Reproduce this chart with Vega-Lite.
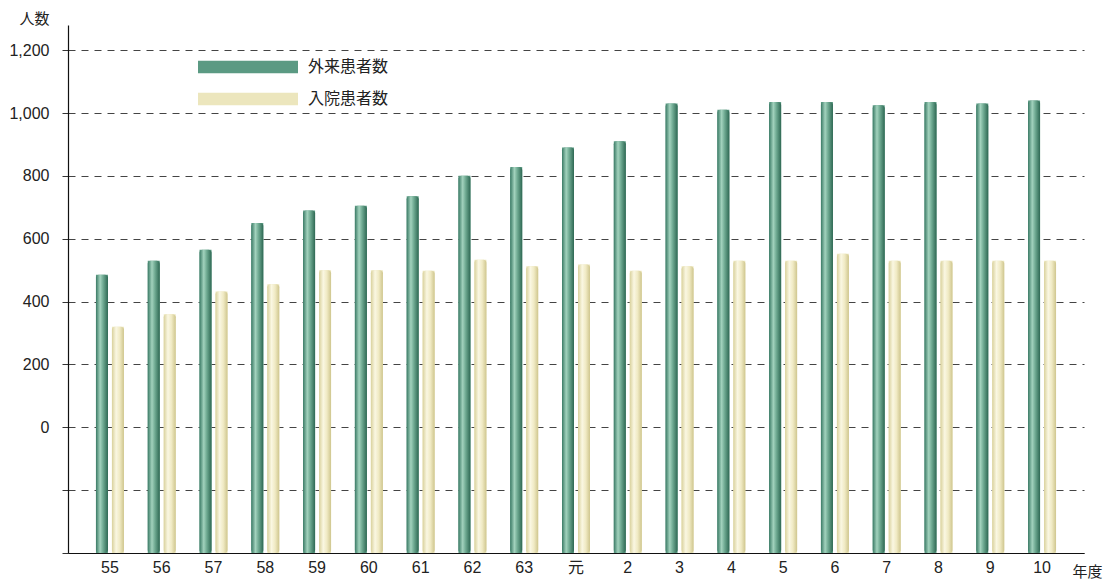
{
  "$schema": "https://vega.github.io/schema/vega-lite/v6.json",
  "width": 1016,
  "height": 528,
  "autosize": {"type": "none"},
  "padding": {"left": 68, "top": 25, "right": 20, "bottom": 26},
  "background": "white",
  "config": {
    "view": {"stroke": null},
    "font": "Liberation Sans, Noto Sans CJK JP",
    "axis": {"labelFont": "Liberation Sans, Noto Sans CJK JP", "titleFont": "Noto Sans CJK JP"}
  },
  "data": {
    "values": [
      {"year": "55", "series": "外来患者数", "value": 485},
      {"year": "56", "series": "外来患者数", "value": 530},
      {"year": "57", "series": "外来患者数", "value": 565},
      {"year": "58", "series": "外来患者数", "value": 650},
      {"year": "59", "series": "外来患者数", "value": 690},
      {"year": "60", "series": "外来患者数", "value": 705},
      {"year": "61", "series": "外来患者数", "value": 735},
      {"year": "62", "series": "外来患者数", "value": 800},
      {"year": "63", "series": "外来患者数", "value": 828},
      {"year": "元", "series": "外来患者数", "value": 890},
      {"year": "2", "series": "外来患者数", "value": 910},
      {"year": "3", "series": "外来患者数", "value": 1030},
      {"year": "4", "series": "外来患者数", "value": 1010},
      {"year": "5", "series": "外来患者数", "value": 1035},
      {"year": "6", "series": "外来患者数", "value": 1035},
      {"year": "7", "series": "外来患者数", "value": 1025},
      {"year": "8", "series": "外来患者数", "value": 1035},
      {"year": "9", "series": "外来患者数", "value": 1030},
      {"year": "10", "series": "外来患者数", "value": 1040},
      {"year": "55", "series": "入院患者数", "value": 320},
      {"year": "56", "series": "入院患者数", "value": 360},
      {"year": "57", "series": "入院患者数", "value": 432},
      {"year": "58", "series": "入院患者数", "value": 455},
      {"year": "59", "series": "入院患者数", "value": 500},
      {"year": "60", "series": "入院患者数", "value": 500},
      {"year": "61", "series": "入院患者数", "value": 498},
      {"year": "62", "series": "入院患者数", "value": 533},
      {"year": "63", "series": "入院患者数", "value": 512},
      {"year": "元", "series": "入院患者数", "value": 518},
      {"year": "2", "series": "入院患者数", "value": 498},
      {"year": "3", "series": "入院患者数", "value": 512},
      {"year": "4", "series": "入院患者数", "value": 530},
      {"year": "5", "series": "入院患者数", "value": 530},
      {"year": "6", "series": "入院患者数", "value": 552},
      {"year": "7", "series": "入院患者数", "value": 530},
      {"year": "8", "series": "入院患者数", "value": 530},
      {"year": "9", "series": "入院患者数", "value": 530},
      {"year": "10", "series": "入院患者数", "value": 530}
    ]
  },
  "encoding": {
    "x": {
      "field": "year",
      "type": "nominal",
      "sort": ["55","56","57","58","59","60","61","62","63","元","2","3","4","5","6","7","8","9","10"],
      "scale": {"paddingInner": 0.46, "paddingOuter": 0.54},
      "axis": {
        "title": "年度",
        "titleX": 1019,
        "titleY": 18,
        "titleAlign": "center",
        "titleBaseline": "middle",
        "titleFontSize": 15,
        "titleFontWeight": "normal",
        "titleColor": "#222",
        "labelAngle": 0,
        "labelFontSize": 16,
        "labelColor": "#222",
        "labelPadding": 6,
        "ticks": false,
        "domainColor": "#111",
        "domainWidth": 1.2,
        "grid": false
      }
    },
    "xOffset": {
      "field": "series",
      "type": "nominal",
      "sort": ["外来患者数", "入院患者数"],
      "scale": {"paddingInner": 0.25, "paddingOuter": 0}
    },
    "y": {
      "field": "value",
      "type": "quantitative",
      "scale": {"domain": [-400, 1280], "nice": false, "zero": false},
      "axis": {
        "title": "人数",
        "titleAngle": 0,
        "titleX": -34,
        "titleY": -6.5,
        "titleAlign": "center",
        "titleBaseline": "middle",
        "titleFontSize": 15,
        "titleFontWeight": "normal",
        "titleColor": "#222",
        "values": [-400, -200, 0, 200, 400, 600, 800, 1000, 1200],
        "labelExpr": "datum.value < 0 ? '' : format(datum.value, ',')",
        "labelFontSize": 16,
        "labelColor": "#222",
        "labelPadding": 13,
        "tickSize": 6,
        "tickColor": "#333",
        "domainColor": "#111",
        "domainWidth": 1.2,
        "grid": true,
        "gridColor": "#444",
        "gridDash": [7, 6],
        "gridWidth": 1
      }
    },
    "y2": {"datum": -400}
  },
  "layer": [
    {
      "mark": {"type": "bar"},
      "encoding": {
        "color": {
          "field": "series",
          "type": "nominal",
          "sort": ["外来患者数", "入院患者数"],
          "scale": {"range": ["#5b9a83", "#ece6bd"]},
          "legend": {
            "title": null,
            "orient": "none",
            "legendX": 167.5,
            "legendY": 29.5,
            "symbolType": "M-4,-0.5H4V0.5H-4Z",
            "symbolSize": 625,
            "symbolStrokeWidth": 0,
            "rowPadding": 11,
            "labelOffset": 47.5,
            "labelFontSize": 16,
            "labelColor": "#222",
            "labelFont": "Noto Sans CJK JP"
          }
        }
      }
    },
    {
      "transform": [{"filter": "datum.series === '外来患者数'"}],
      "mark": {
        "type": "bar",
        "cornerRadiusEnd": 3,
        "color": {
          "gradient": "linear", "x1": 0, "x2": 1, "y1": 0, "y2": 0,
          "stops": [
            {"offset": 0, "color": "#3a7a65"},
            {"offset": 0.35, "color": "#a2d2bd"},
            {"offset": 0.6, "color": "#6faa92"},
            {"offset": 1, "color": "#2e6853"}
          ]
        }
      }
    },
    {
      "transform": [{"filter": "datum.series === '入院患者数'"}],
      "mark": {
        "type": "bar",
        "cornerRadiusEnd": 3,
        "color": {
          "gradient": "linear", "x1": 0, "x2": 1, "y1": 0, "y2": 0,
          "stops": [
            {"offset": 0, "color": "#d9d19c"},
            {"offset": 0.35, "color": "#faf7e2"},
            {"offset": 0.65, "color": "#f0eac4"},
            {"offset": 1, "color": "#cfc68e"}
          ]
        }
      }
    }
  ]
}
